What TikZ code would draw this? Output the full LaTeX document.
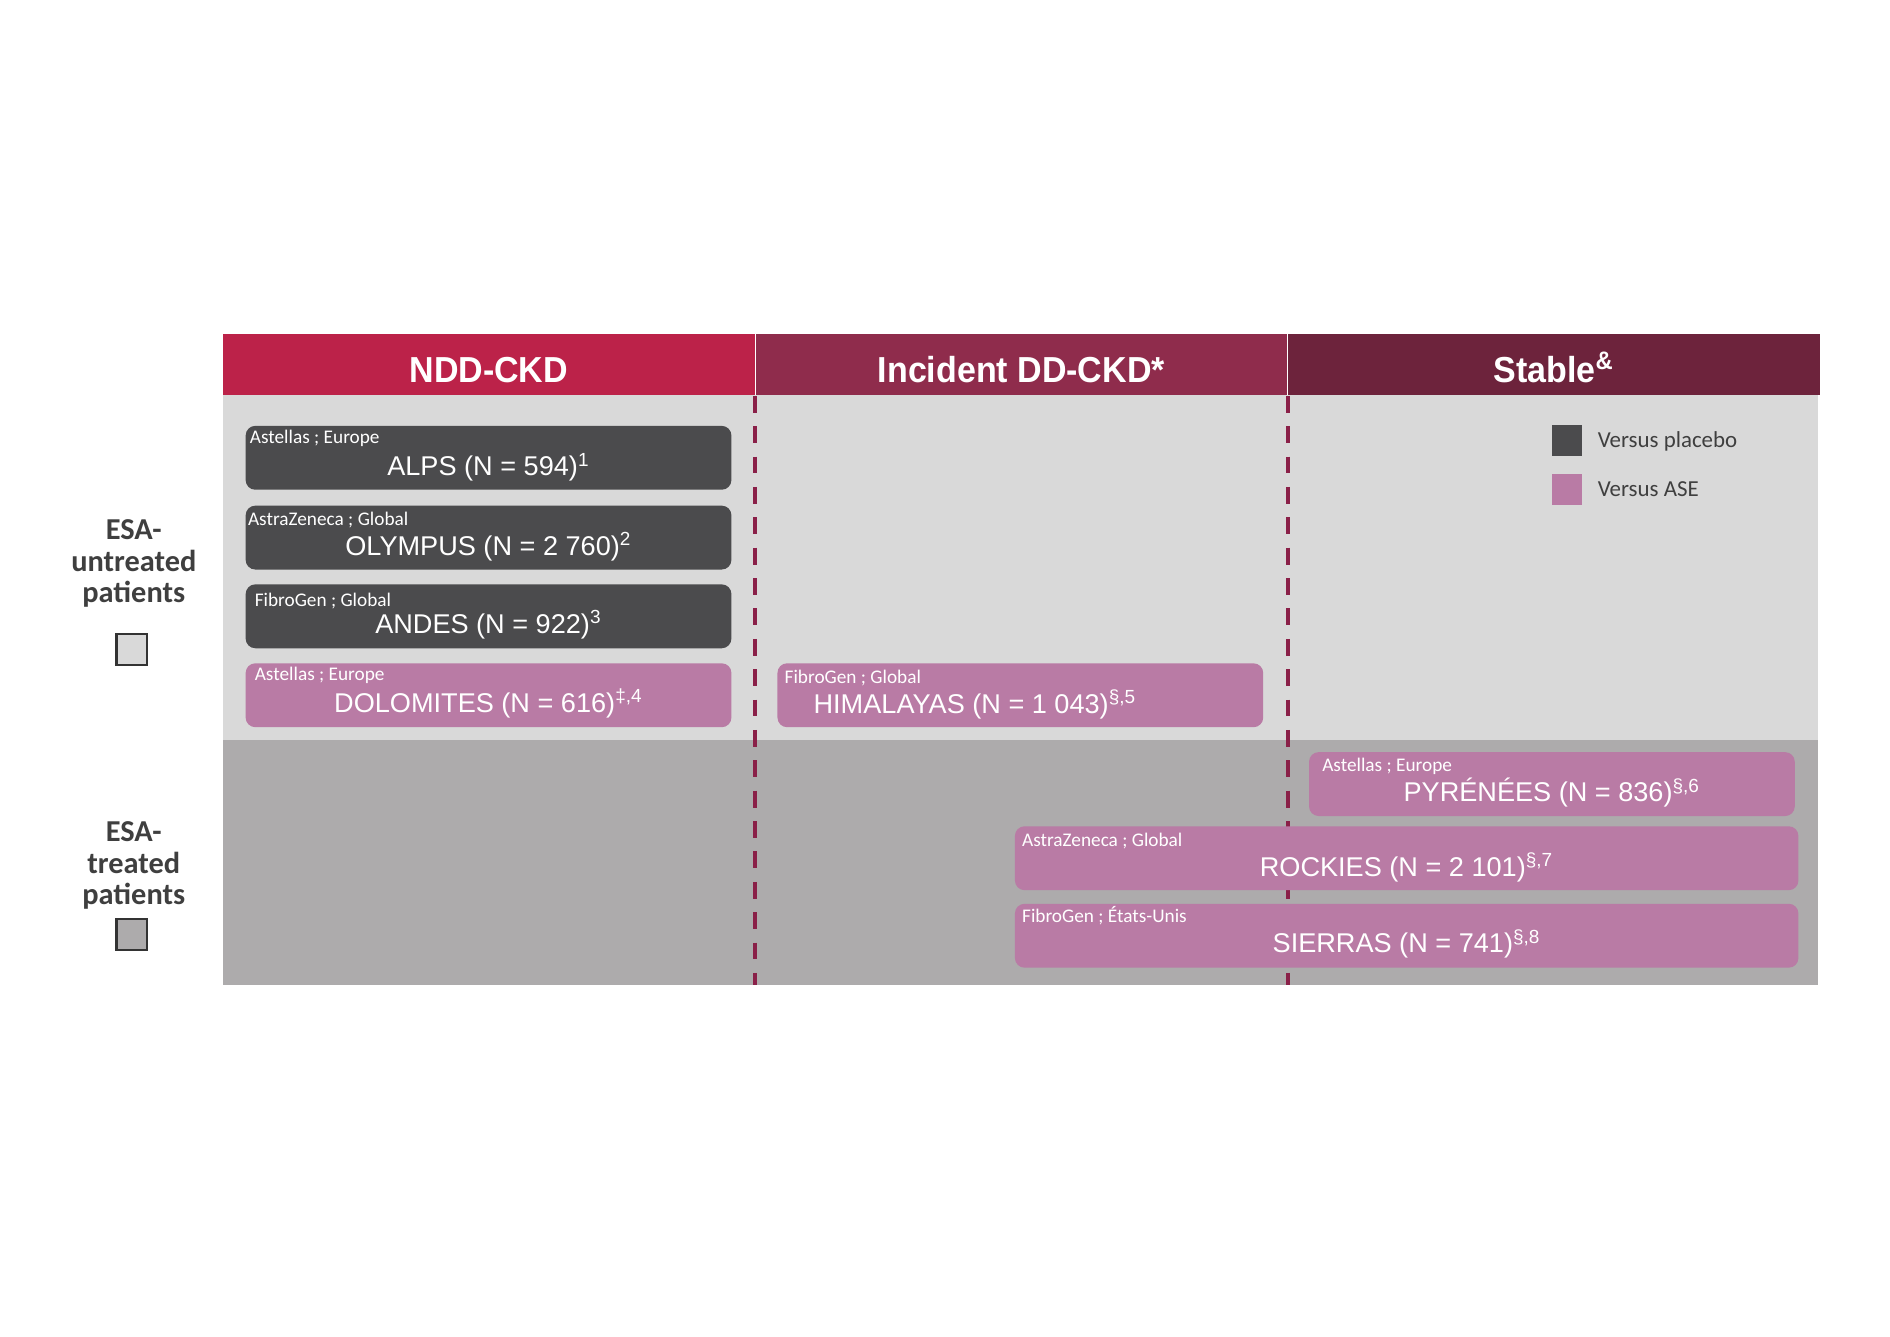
\documentclass[tikz,border=0pt]{standalone}
\usepackage{fontspec}
\setmainfont{Liberation Sans}
\newfontfamily\calib{Carlito}
\newfontfamily\headfont[FakeStretch=0.94]{Liberation Sans}
\usetikzlibrary{positioning}

\definecolor{nddred}{HTML}{BC2249}
\definecolor{incred}{HTML}{8F2C4C}
\definecolor{stabred}{HTML}{6D233C}
\definecolor{dashred}{HTML}{8A2048}
\definecolor{paleband}{HTML}{D9D9D9}
\definecolor{darkband}{HTML}{ADABAC}
\definecolor{pbogray}{HTML}{4B4B4D}
\definecolor{asepink}{HTML}{B97BA5}
\definecolor{inkgray}{HTML}{3F3F3F}

\begin{document}
\begin{tikzpicture}
	[x=0.5pt, y=-0.5pt,
	colhead/.style = {fill=#1, text=white, minimum width=220.5pt, minimum height=25.65pt, inner sep=0pt, text height=15pt, text depth=0pt, font=\headfont\bfseries\fontsize{15}{18}\selectfont},
	trial/.style = {rounded corners=4pt, inner sep=0pt, minimum width=201.5pt, minimum height=26.5pt},
	placebo/.style = {trial, fill=pbogray},
	ase/.style = {trial, fill=asepink},
	sponsor/.style = {text=white, inner sep=0pt, font=\calib\fontsize{8}{9.6}\selectfont},
	study/.style = {text=white, inner sep=0pt, font=\fontsize{11.25}{13.5}\selectfont},
	divider/.style = {dashred, line width=1.6pt, dash pattern=on 7pt off 5.6pt},
	legendkey/.style = {fill=#1, minimum width=12.5pt, minimum height=12.8pt, inner sep=0pt},
	keytext/.style = {text=inkgray, inner sep=0pt, text height=6.2pt, text depth=0pt, font=\calib\fontsize{9.5}{11.4}\selectfont},
	rowlabel/.style = {text=inkgray, align=center, inner sep=0pt, font=\calib\bfseries\fontsize{12.6}{13.2}\selectfont},
	swatch/.style = {draw=black!80, line width=0.9pt, fill=#1, minimum width=12.5pt, minimum height=12.8pt, inner sep=0pt}]
	\useasboundingbox (0,0) rectangle (1568,1108.4);
	% bands
	\fill[paleband] (185,328) rectangle (1508,614);
	\fill[darkband] (185,614) rectangle (1508,817);
	\coordinate (base) at (0,817);
	% column heads
	\node[colhead=nddred] (ndd) at (405.5,302.35) {NDD-CKD};
	\node[colhead=incred] (inc) [right=0pt of ndd] {Incident DD-CKD*};
	\node[colhead=stabred] (stab) [right=0pt of inc] {Stable\textsuperscript{\&}};
	\draw[divider] (ndd.south east) -- (ndd.south east |- base);
	\draw[divider] (inc.south east) -- (inc.south east |- base);
	% legend
	\node[legendkey=pbogray] (pbokey) at (1300.3,365.3) {};
	\node[keytext, right=6pt of pbokey] (pbotxt) {Versus placebo};
	\node[legendkey=asepink] (asekey) at (1300.3,406) {};
	\node[keytext, right=6pt of asekey] (asetxt) {Versus ASE};
	% row labels
	\node[rowlabel] (untreated) at (111,467.5) {ESA-\\untreated\\patients};
	\node[swatch=paleband] (untreatedkey) at (109.2,538.8) {};
	\node[rowlabel] (treated) at (111,718) {ESA-\\treated\\patients};
	\node[swatch=darkband] (treatedkey) at (109.2,775) {};
	% trials
	\node[placebo] (alps) at (405.3,379.8) {};
	\node[sponsor, anchor=base west] (alpss) at ([shift={(3.5,15.2)}]alps.north west) {Astellas ; Europe};
	\node[study, anchor=base] (alpst) at ([shift={(0,41.8)}]alps.north) {ALPS (N = 594)\textsuperscript{1}};
	\node[placebo] (olympus) at (405.3,446) {};
	\node[sponsor, anchor=base west] (olympuss) at ([shift={(2,16.6)}]olympus.north west) {AstraZeneca ; Global};
	\node[study, anchor=base] (olympust) at ([shift={(0,41.5)}]olympus.north) {OLYMPUS (N = 2 760)\textsuperscript{2}};
	\node[placebo] (andes) at (405.3,511.3) {};
	\node[sponsor, anchor=base west] (andess) at ([shift={(7.6,19)}]andes.north west) {FibroGen ; Global};
	\node[study, anchor=base] (andest) at ([shift={(0,41.2)}]andes.north) {ANDES (N = 922)\textsuperscript{3}};
	\node[ase] (dolomites) at (405.3,576.8) {};
	\node[sponsor, anchor=base west] (dolomitess) at ([shift={(7.6,14.7)}]dolomites.north west) {Astellas ; Europe};
	\node[study, anchor=base] (dolomitest) at ([shift={(0,41)}]dolomites.north) {DOLOMITES (N = 616)\textsuperscript{‡,4}};
	\node[ase] (himalayas) at (846.5,576.8) {};
	\node[sponsor, anchor=base west] (himalayass) at ([shift={(6,17)}]himalayas.north west) {FibroGen ; Global};
	\node[study, anchor=base west] (himalayast) at ([shift={(30,42)}]himalayas.north west) {HIMALAYAS (N = 1 043)\textsuperscript{§,5}};
	\node[ase] (pyrenees) at (1287.5,650.5) {};
	\node[sponsor, anchor=base west] (pyreneess) at ([shift={(11,16.6)}]pyrenees.north west) {Astellas ; Europe};
	\node[study, anchor=base] (pyreneest) at ([shift={(0,41.5)}]pyrenees.north) {PYRÉNÉES (N = 836)\textsuperscript{§,6}};
	\node[ase, minimum width=325pt] (rockies) at (1167,712) {};
	\node[sponsor, anchor=base west] (rockiess) at ([shift={(6,17.4)}]rockies.north west) {AstraZeneca ; Global};
	\node[study, anchor=base] (rockiest) at ([shift={(0,41.7)}]rockies.north) {ROCKIES (N = 2 101)\textsuperscript{§,7}};
	\node[ase, minimum width=325pt] (sierras) at (1167,776.3) {};
	\node[sponsor, anchor=base west] (sierrass) at ([shift={(6,16)}]sierras.north west) {FibroGen ; États-Unis};
	\node[study, anchor=base] (sierrast) at ([shift={(0,41)}]sierras.north) {SIERRAS (N = 741)\textsuperscript{§,8}};
\end{tikzpicture}
\end{document}
